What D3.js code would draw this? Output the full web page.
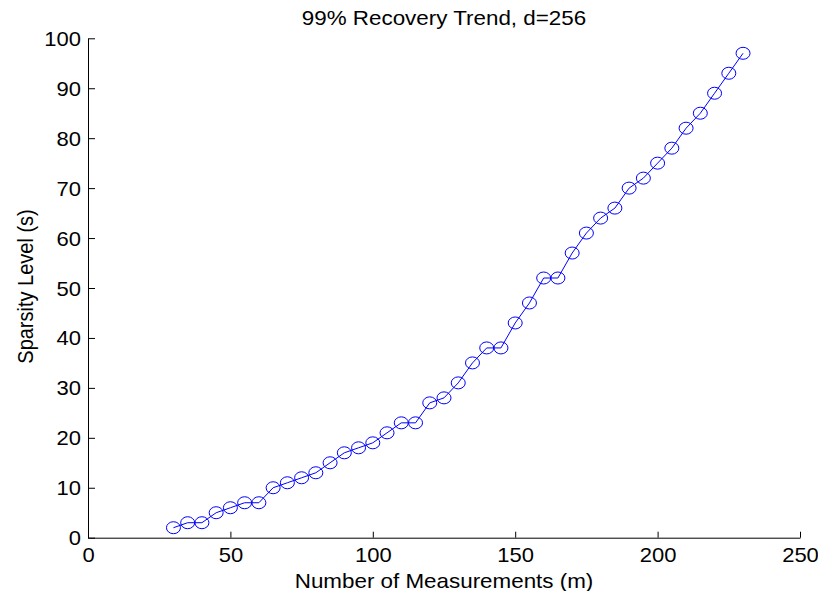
<!DOCTYPE html>
<html><head><meta charset="utf-8">
<script src="https://cdn.jsdelivr.net/npm/d3@7"></script>
<style>body{margin:0;background:#fff}svg{display:block;font-family:"Liberation Sans",Arial,sans-serif}</style>
</head><body><svg id="c" width="818" height="591"></svg>
<script>
const measurements = [30,35,40,45,50,55,60,65,70,75,80,85,90,95,100,105,110,115,120,125,130,135,140,145,150,155,160,165,170,175,180,185,190,195,200,205,210,215,220,225,230];
const sparsity = [2,3,3,5,6,7,7,10,11,12,13,15,17,18,19,21,23,23,27,28,31,35,38,38,43,47,52,52,57,61,64,66,70,72,75,78,82,85,89,93,97];
const xTicks = [0,50,100,150,200,250];
const yTicks = [0,10,20,30,40,50,60,70,80,90,100];
const titleText = "99% Recovery Trend, d=256";
const xLabel = "Number of Measurements (m)";
const yLabel = "Sparsity Level (s)";

const svg = d3.select("#c");
const L = 88, R = 800, T = 38.3, B = 537.7;
const SX = 1.1;
const x = d3.scaleLinear().domain([0,250]).range([L,R]);
const y = d3.scaleLinear().domain([0,100]).range([B,T]);

const xa = svg.append("g").attr("transform",`translate(0,${B})`)
  .call(d3.axisBottom(x).tickValues(xTicks).tickSize(-6).tickPadding(0).tickSizeOuter(0));
const ya = svg.append("g").attr("transform",`translate(${L},0)`)
  .call(d3.axisLeft(y).tickValues(yTicks).tickSize(-7).tickPadding(0).tickSizeOuter(0));
[xa,ya].forEach(a=>{
  a.selectAll("path,line").attr("stroke","#000").attr("stroke-width",1);
  a.selectAll("text").attr("font-size",20).attr("fill","#000").attr("font-family","Liberation Sans,Arial,sans-serif");
});
xa.selectAll("text").attr("x",0).attr("y",0).attr("dy",null)
  .attr("transform",`translate(0,24.5) scale(${SX},1)`);
ya.selectAll("text").attr("x",0).attr("y",0).attr("dy","0.35em")
  .attr("transform",`translate(-7,0) scale(${SX},1)`);

const pts = measurements.map((m,i)=>[m,sparsity[i]]);
svg.append("path").datum(pts)
  .attr("fill","none").attr("stroke","#0000ff").attr("stroke-width",1)
  .attr("d", d3.line().x(d=>x(d[0])).y(d=>y(d[1])));
svg.selectAll("ellipse.m").data(pts).enter().append("ellipse")
  .attr("cx",d=>x(d[0])).attr("cy",d=>y(d[1]))
  .attr("rx",7).attr("ry",6)
  .attr("fill","none").attr("stroke","#0000ff").attr("stroke-width",1);

svg.append("text").attr("transform",`translate(${(L+R)/2},25) scale(1.12,1)`).attr("text-anchor","middle")
  .attr("font-size",20).text(titleText);
svg.append("text").attr("transform",`translate(${(L+R)/2},588) scale(1.12,1)`).attr("text-anchor","middle")
  .attr("font-size",20).text(xLabel);
svg.append("text").attr("transform",`translate(33,286.5) scale(1.12,1) rotate(-90)`).attr("text-anchor","middle")
  .attr("font-size",20).text(yLabel);
</script></body></html>
